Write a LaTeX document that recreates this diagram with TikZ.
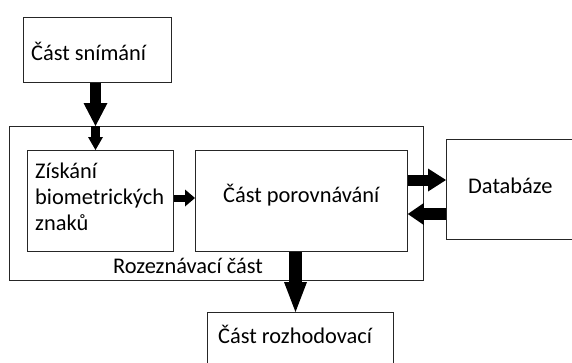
\documentclass[tikz,border=0pt]{standalone}
\usepackage{fontspec}
\setmainfont{Carlito}
\usepackage{tikz}
\usetikzlibrary{positioning,arrows.meta}

\begin{document}
\begin{tikzpicture}[x=1pt, y=-1pt,
	blok/.style={draw=black!85, line width=1.3pt, rectangle, inner sep=0pt, anchor=north west},
	popis/.style={anchor=base west, inner sep=0pt, font=\fontsize{22.4pt}{26pt}\selectfont},
	sipka/.style={draw=black, line width=#1}]
	\useasboundingbox (0,0) rectangle (572,362);
	\clip (0,0) rectangle (572,362);
	\node[blok, minimum width=148pt, minimum height=65pt] (snimani) at (23,17) {};
	\node[blok, minimum width=414pt, minimum height=154pt] (rozezn) at (9,126) {};
	\node[blok, minimum width=146pt, minimum height=101pt] (ziskani) at (27,150) {};
	\node[blok, minimum width=211.5pt, minimum height=101pt] (porovn) at (195,150) {};
	\node[blok, minimum width=150pt, minimum height=100pt] (databaze) at (446,139) {};
	\node[blok, minimum width=186pt, minimum height=70pt] (rozhod) at (207,312) {};
	\node[popis] (tSnimani) at (31,60) {Část snímání};
	\node[popis, align=left] (tZiskani) at (35,178) {Získání};
	\node[popis] (tBiometr) at (35,204) {biometrických};
	\node[popis] (tZnaku) at (35,230) {znaků};
	\node[popis] (tPorovn) at (223,202) {Část porovnávání};
	\node[popis] (tRozezn) at (113,273) {Rozeznávací část};
	\node[popis] (tDatabaze) at (468,193) {Databáze};
	\node[popis] (tRozhod) at (218,343) {Část rozhodovací};
	\coordinate (osaA) at (95.5,0);
	\coordinate (osaB) at (295.5,0);
	\coordinate (osaC) at (0,198);
	\coordinate (osaD) at (0,180);
	\coordinate (osaE) at (0,214);
	\draw[sipka=11pt, -{Triangle[length=23pt, width=24pt, line width=0pt]}] (snimani.south -| osaA) -- (rozezn.north -| osaA);
	\draw[sipka=9pt, -{Triangle[length=13pt, width=15pt, line width=0pt]}] (rozezn.north -| osaA) -- (ziskani.north -| osaA);
	\draw[sipka=7pt, -{Triangle[length=10pt, width=17pt, line width=0pt]}] (ziskani.east |- osaC) -- (porovn.west |- osaC);
	\draw[sipka=11pt, -{Triangle[length=18pt, width=23pt, line width=0pt]}] (porovn.east |- osaD) -- (databaze.west |- osaD);
	\draw[sipka=12pt, -{Triangle[length=16pt, width=22pt, line width=0pt]}] (databaze.west |- osaE) -- (porovn.east |- osaE);
	\draw[sipka=13pt, -{Triangle[length=30pt, width=23pt, line width=0pt]}] (porovn.south -| osaB) -- (rozhod.north -| osaB);
\end{tikzpicture}
\end{document}
